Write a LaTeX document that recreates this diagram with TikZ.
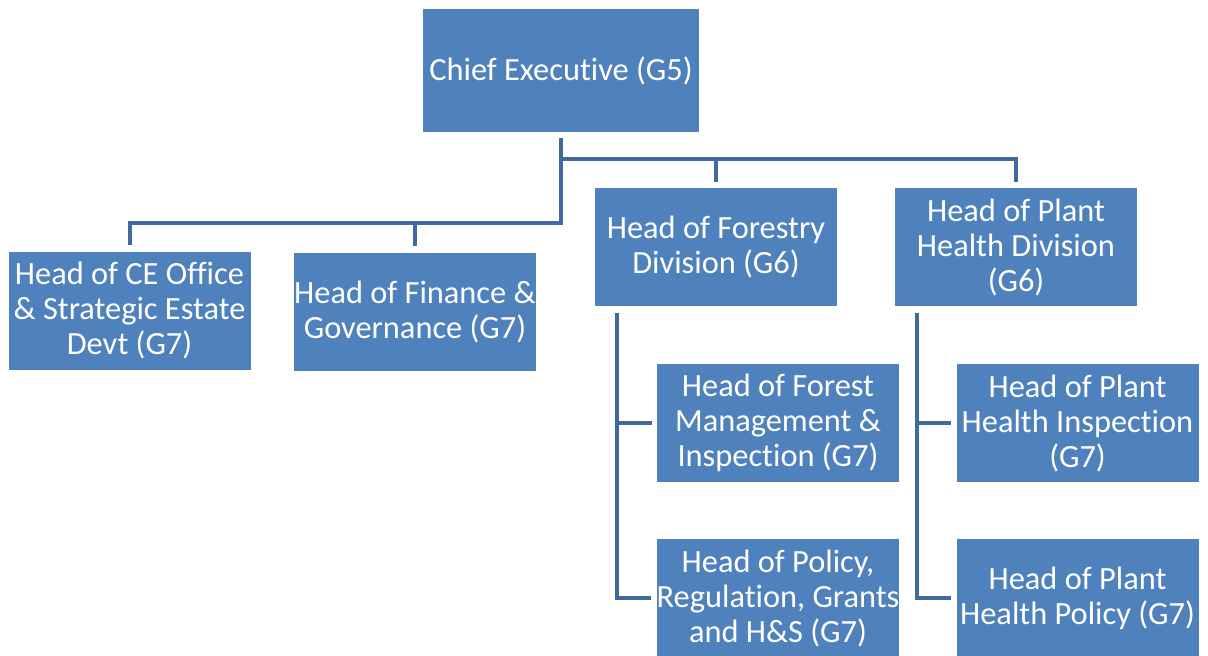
\documentclass[tikz,border=0pt]{standalone}
\usepackage{fontspec}
\setmainfont{Carlito}[Ligatures=NoCommon]
\usepackage{tikz}
\usetikzlibrary{positioning}
\definecolor{boxblue}{HTML}{4F81BD}
\definecolor{lineblue}{HTML}{41699B}

\begin{document}
\begin{tikzpicture}[x=0.5pt,y=-0.5pt,
		post/.style={rectangle,fill=boxblue,text=white,align=center,inner sep=0pt,
			minimum width=121pt,minimum height=59pt,font=\fontsize{16.2}{17.5}\selectfont},
		link/.style={draw=lineblue,line width=2pt}]
			\useasboundingbox (0,0) rectangle (1208,655);
			\node[post,minimum width=138pt,minimum height=61.5pt] (ce) at (561,70.5) {Chief Executive (G5)};
			\node[post] (office) at (129.5,310.5) {Head of CE Office\\\& Strategic Estate\\Devt (G7)};
			\node[post] (finance) at (415,311.5) {Head of Finance \&\\Governance (G7)};
			\node[post] (forestry) at (716,247) {Head of Forestry\\Division (G6)};
			\node[post] (plant) at (1016,247) {Head of Plant\\Health Division\\(G6)};
			\node[post] (forestmgmt) at (778,423) {Head of Forest\\Management \&\\Inspection (G7)};
			\node[post] (policy) at (778,598) {Head of Policy,\\Regulation, Grants\\and H\&S (G7)};
			\node[post] (inspect) at (1077.5,423) {Head of Plant\\Health Inspection\\(G7)};
			\node[post] (phpolicy) at (1077.5,598) {Head of Plant\\Health Policy (G7)};
			% bars under the chief executive
			\coordinate (lbus) at (561,223);
			\coordinate (rbus) at (561,159);
			\draw[link] ([yshift=-3pt]ce.south) -- (lbus) -| ([yshift=3pt]office.north);
			\draw[link] (lbus -| finance.north) -- ([yshift=3pt]finance.north);
			\draw[link] (rbus) -| ([yshift=3pt]plant.north);
			\draw[link] (rbus -| forestry.north) -- ([yshift=3pt]forestry.north);
			% divisions
			\coordinate (fbus) at (617,313);
			\coordinate (pbus) at (917,313);
			\draw[link] (fbus) |- ([xshift=-2.5pt]policy.west);
			\draw[link] (fbus |- forestmgmt.west) -- ([xshift=-2.5pt]forestmgmt.west);
			\draw[link] (pbus) |- ([xshift=-2.5pt]phpolicy.west);
			\draw[link] (pbus |- inspect.west) -- ([xshift=-2.5pt]inspect.west);
		\end{tikzpicture}
\end{document}
